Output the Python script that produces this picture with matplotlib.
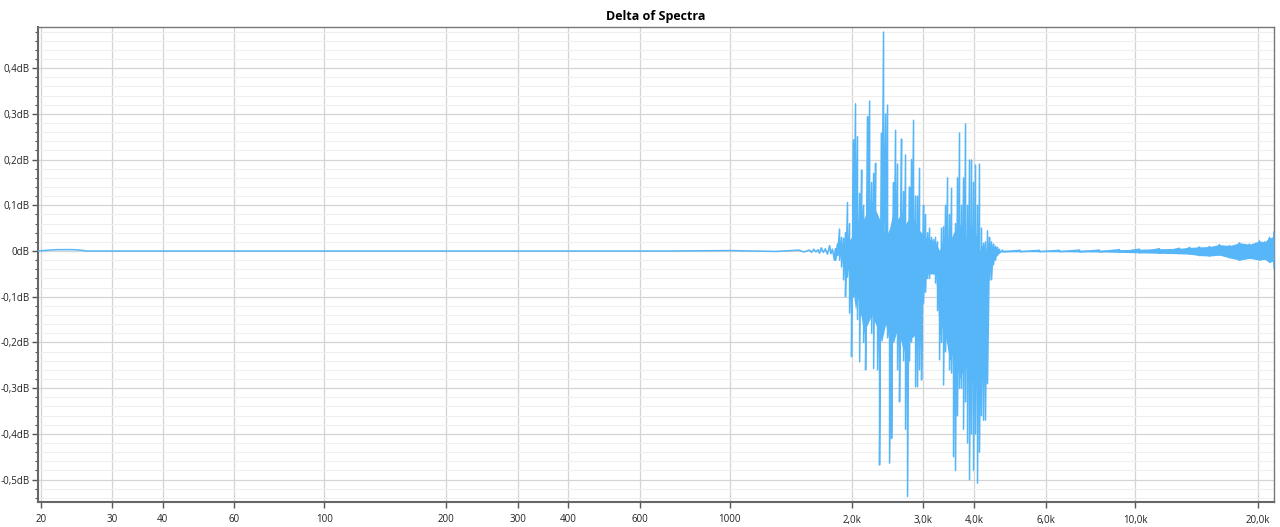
import numpy as np
import matplotlib
matplotlib.use("Agg")
import matplotlib.pyplot as plt
from matplotlib.ticker import FixedLocator, FixedFormatter, MultipleLocator

plt.rcParams["font.family"] = ["Open Sans", "DejaVu Sans"]

# flat part, 20 Hz .. 1.8 kHz
flat_freq = [19.7, 21, 22, 24, 25, 26, 30, 100, 300, 700, 1000, 1300, 1480, 1520,
             1573, 1590, 1610, 1630, 1650, 1664, 1680, 1700, 1720, 1740, 1762, 1775, 1790, 1810]
flat_db = [0.0, 0.002, 0.003, 0.003, 0.002, 0.0, 0.0, 0.0, 0.0, 0.0, 0.001, -0.001, 0.002, -0.002,
           0.002, -0.003, 0.004, -0.002, 0.003, -0.005, 0.007, -0.003, 0.005, -0.007, 0.012, -0.006, 0.004, -0.02]

# dense part, 1.8 kHz .. 4.6 kHz: upper and lower swing per column
dense_freq = [1822, 1843, 1864, 1885, 1907, 1928, 1950, 1973, 1995, 2018,
              2041, 2064, 2089, 2113, 2137, 2161, 2186, 2211, 2236, 2262,
              2287, 2313, 2339, 2366, 2393, 2421, 2448, 2476, 2505, 2533,
              2562, 2591, 2620, 2650, 2681, 2711, 2742, 2773, 2805, 2837,
              2870, 2902, 2935, 2969, 3003, 3037, 3072, 3107, 3142, 3178,
              3214, 3251, 3288, 3326, 3364, 3402, 3441, 3480, 3520, 3560,
              3600, 3641, 3683, 3725, 3768, 3811, 3854, 3898, 3943, 3988,
              4033, 4079, 4125, 4172, 4220, 4268, 4317, 4367, 4416, 4467,
              4518, 4569, 4621]
dense_hi = [0.005, 0.015, 0.048, 0.030, 0.028, 0.040, 0.106, 0.060, 0.020, 0.243,
            0.322, 0.250, 0.126, 0.177, 0.100, 0.020, 0.294, 0.328, 0.150, 0.170,
            0.192, 0.050, 0.000, 0.258, 0.479, 0.300, 0.319, 0.000, -0.100, 0.150,
            0.264, 0.190, 0.060, 0.245, 0.130, 0.210, 0.030, 0.140, 0.200, 0.286,
            0.120, 0.120, 0.181, 0.000, 0.100, 0.080, 0.040, 0.050, 0.030, 0.025,
            0.030, 0.020, 0.000, 0.050, 0.053, 0.100, 0.160, 0.080, 0.137, 0.000,
            0.060, 0.160, 0.258, 0.100, 0.160, 0.278, 0.100, 0.199, 0.199, 0.150,
            0.188, 0.100, 0.190, 0.050, 0.017, 0.020, 0.044, 0.030, 0.020, 0.015,
            0.010, 0.008, 0.004]
dense_lo = [-0.020, -0.010, -0.020, -0.035, -0.063, -0.100, -0.057, -0.136, -0.231, -0.100,
            -0.060, -0.150, -0.242, -0.140, -0.200, -0.260, -0.120, -0.100, -0.180, -0.257,
            -0.100, -0.260, -0.468, -0.140, -0.010, -0.130, -0.190, -0.464, -0.410, -0.170,
            -0.140, -0.260, -0.330, -0.150, -0.240, -0.390, -0.537, -0.240, -0.200, -0.170,
            -0.297, -0.297, -0.260, -0.282, -0.114, -0.090, -0.060, -0.060, -0.040, -0.050,
            -0.070, -0.130, -0.238, -0.200, -0.293, -0.220, -0.200, -0.260, -0.267, -0.450,
            -0.480, -0.360, -0.300, -0.300, -0.390, -0.330, -0.420, -0.500, -0.400, -0.480,
            -0.400, -0.508, -0.440, -0.360, -0.370, -0.370, -0.290, -0.063, -0.063, -0.030,
            -0.020, -0.010, -0.005]

# solid core inside the dense part
core_freq = [1950, 1995, 2041, 2064, 2113, 2137, 2161, 2236, 2313, 2366, 2421, 2476, 2533,
             2591, 2681, 2711, 2805, 2902, 2969, 3037, 3214, 3288, 3364, 3480, 3560,
             3683, 3811, 3988, 4125, 4220, 4268, 4317, 4467]
core_hi = [0.02, 0.03, 0.09, 0.06, 0.10, 0.07, 0.08, 0.11, 0.08, 0.06, 0.03, 0.05, 0.09,
           0.07, 0.09, 0.06, 0.08, 0.05, 0.04, 0.03, 0.02, 0.0, 0.03, 0.02, 0.04,
           0.06, 0.03, 0.06, 0.0, 0.02, 0.0, 0.02, 0.005]
core_lo = [-0.04, -0.06, -0.13, -0.10, -0.15, -0.18, -0.17, -0.14, -0.17, -0.20, -0.16, -0.20, -0.20,
           -0.17, -0.22, -0.21, -0.19, -0.18, -0.14, -0.05, -0.05, -0.18, -0.16, -0.24, -0.22,
           -0.28, -0.25, -0.29, -0.30, -0.26, -0.28, -0.05, -0.005]

# high end, 4.7 kHz .. 22 kHz: noise band that widens
tail_freq = [4700, 5200, 5800, 6500, 7280, 8150, 9130, 10230, 11460, 12840,
             13600, 14390, 15230, 16110, 17060, 18050, 19100, 20220, 20800, 21400,
             21760, 21950]
tail_hi = [0.002, 0.0015, 0.0015, 0.0015, 0.002, 0.002, 0.003, 0.004, 0.005, 0.006,
           0.008, 0.009, 0.010, 0.014, 0.012, 0.018, 0.015, 0.022, 0.020, 0.030,
           0.028, 0.042]
tail_lo = [-0.002, -0.0015, -0.0015, -0.0015, -0.002, -0.002, -0.003, -0.004, -0.005, -0.006,
           -0.007, -0.010, -0.011, -0.009, -0.015, -0.020, -0.016, -0.020, -0.018, -0.025,
           -0.022, -0.037]

x_ticks = [20, 30, 40, 60, 100, 200, 300, 400, 600, 1000, 2000, 3000, 4000, 6000, 10000, 20000]
x_labels = ["20", "30", "40", "60", "100", "200", "300", "400", "600", "1000",
            "2,0k", "3,0k", "4,0k", "6,0k", "10,0k", "20,0k"]
y_ticks = [-0.5, -0.4, -0.3, -0.2, -0.1, 0.0, 0.1, 0.2, 0.3, 0.4]
y_labels = ["-0,5dB", "-0,4dB", "-0,3dB", "-0,2dB", "-0,1dB", "0dB", "0,1dB", "0,2dB", "0,3dB", "0,4dB"]

col = "#56b6f7"

# zigzag through the hi/lo swings
def zigzag(f, hi, lo):
    xs = np.repeat(np.array(f, dtype=float), 2)
    ys = np.empty(len(xs))
    ys[0::2] = hi
    ys[1::2] = lo
    return xs, ys

dx, dy = zigzag(dense_freq, dense_hi, dense_lo)
tx, ty = zigzag(tail_freq, tail_hi, tail_lo)

fig = plt.figure(figsize=(12.8, 5.27), dpi=100)
ax = fig.add_axes([38 / 1280, 1 - 502 / 527, 1236 / 1280, 475 / 527])

ax.plot(np.concatenate([flat_freq, dx, tx]), np.concatenate([flat_db, dy, ty]),
        color=col, lw=1.1, zorder=3)
ax.fill_between(core_freq, core_lo, core_hi, color=col, lw=0, zorder=3)
ax.fill_between(tail_freq, tail_lo, tail_hi, color=col, lw=0, zorder=3)

ax.set_xscale("log")
ax.set_xlim(19.7, 21950)
ax.set_ylim(-0.549, 0.49)

ax.xaxis.set_major_locator(FixedLocator(x_ticks))
ax.xaxis.set_major_formatter(FixedFormatter(x_labels))
ax.xaxis.set_minor_locator(FixedLocator([]))
ax.yaxis.set_major_locator(FixedLocator(y_ticks))
ax.yaxis.set_major_formatter(FixedFormatter(y_labels))
ax.yaxis.set_minor_locator(MultipleLocator(0.02))

ax.grid(which="major", color="#d4d4d4", lw=0.9, zorder=0)
ax.grid(which="minor", axis="y", color="#efefef", lw=0.8, zorder=0)

ax.tick_params(which="major", length=4, width=1, color="#555555", labelsize=7, labelcolor="#222222", pad=2)
ax.tick_params(which="minor", length=2.5, width=0.8, color="#555555")
ax.tick_params(axis="x", pad=5)

for s in ["left", "bottom"]:
    ax.spines[s].set_color("#666666")
    ax.spines[s].set_linewidth(1.5)
for s in ["top", "right"]:
    ax.spines[s].set_color("#777777")
    ax.spines[s].set_linewidth(1.0)

ax.set_title("Delta of Spectra", fontsize=9, fontweight="bold", pad=5)

fig.savefig("out.png", dpi=100)
